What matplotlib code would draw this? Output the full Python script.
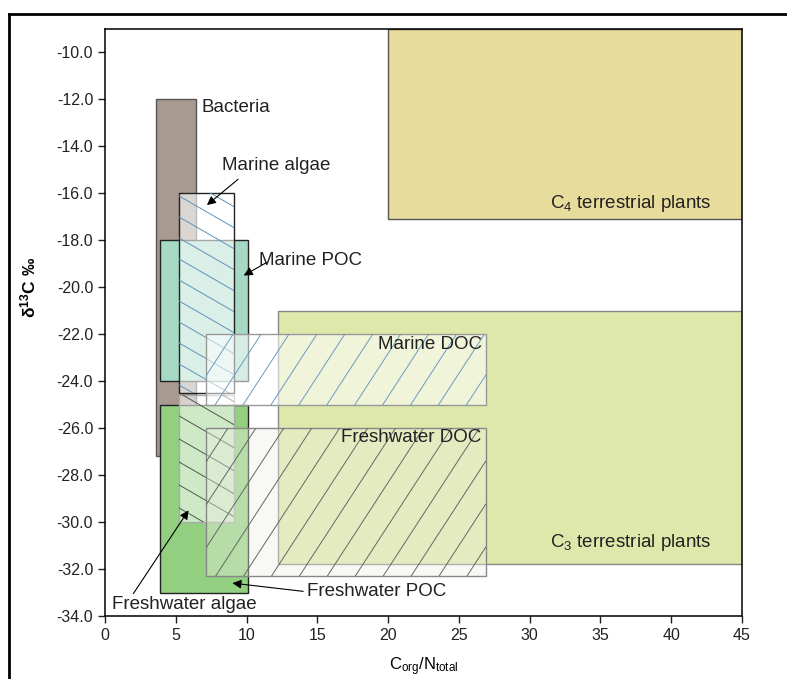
import matplotlib
matplotlib.use('Agg')
import matplotlib.pyplot as plt
from matplotlib.patches import Rectangle
from matplotlib.lines import Line2D
import numpy as np

plt.rcParams['font.family'] = ['Liberation Sans', 'DejaVu Sans']
plt.rcParams['mathtext.fontset'] = 'custom'
plt.rcParams['mathtext.rm'] = 'Liberation Sans'
plt.rcParams['mathtext.it'] = 'Liberation Sans:italic'
plt.rcParams['mathtext.bf'] = 'Liberation Sans:bold'
plt.rcParams['axes.unicode_minus'] = False

# source ranges: C/N ratio (x) and d13C (y)
names = ['C4 plants', 'C3 plants', 'Bacteria', 'Marine POC', 'Freshwater POC',
         'Marine algae', 'Freshwater algae', 'Marine DOC', 'Freshwater DOC']
cn_lo = [20.0, 12.2, 3.6, 3.9, 3.9, 5.2, 5.2, 7.1, 7.1]
cn_hi = [45.0, 45.0, 6.4, 10.1, 10.1, 9.1, 9.1, 26.9, 26.9]
d13c_lo = [-17.1, -31.8, -27.2, -24.0, -33.0, -24.5, -30.0, -25.0, -32.3]
d13c_hi = [-9.0, -21.0, -12.0, -18.0, -25.0, -16.0, -24.6, -22.0, -26.0]

x_ticks = [0, 5, 10, 15, 20, 25, 30, 35, 40, 45]
y_ticks = [-34, -32, -30, -28, -26, -24, -22, -20, -18, -16, -14, -12, -10]

# fill colour, alpha, edge colour, hatch (angle deg, spacing px, colour) or None
styles = {
    'C4 plants': ('#e8dc9c', 1.0, '#555555', None),
    'C3 plants': ('#dfe8ab', 1.0, '#888888', None),
    'Bacteria': ('#a89a90', 1.0, '#555555', None),
    'Marine POC': ('#a5d9c4', 1.0, '#222222', None),
    'Freshwater POC': ('#92cf80', 1.0, '#222222', None),
    'Marine algae': ('white', 0.6, '#222222', (-30, 21, '#5f93b8')),
    'Freshwater algae': ('white', 0.55, '#aaaaaa', (-30, 23, '#555555')),
    'Marine DOC': ('white', 0.55, '#999999', (57, 43, '#6a9cc0')),
    'Freshwater DOC': ('#eef0e4', 0.4, '#888888', (57, 43, '#666666')),
}

W, H = 787, 679
fig = plt.figure(figsize=(W / 100, H / 100), dpi=100)
ax_l, ax_r, ax_t, ax_b = 105, 742, 29, 616
ax = fig.add_axes([ax_l / W, 1 - ax_b / H, (ax_r - ax_l) / W, (ax_b - ax_t) / H])
ax.set_xlim(0, 45)
ax.set_ylim(-34, -9)

kx = (ax_r - ax_l) / 45.0
ky = (ax_b - ax_t) / 25.0


def hatch(patch, x0, x1, y0, y1, angle, step, color, z):
    m = np.tan(np.radians(angle)) * kx / ky
    dy = step / ky
    span = abs(m) * (x1 - x0)
    start = np.floor((y0 - span) / dy) * dy
    for b in np.arange(start, y1 + span + dy, dy):
        ln, = ax.plot([x0, x1], [b, b + m * (x1 - x0)], color=color, lw=0.7, zorder=z)
        ln.set_clip_path(patch)


for i, n in enumerate(names):
    fc, a, ec, h = styles[n]
    r = Rectangle((cn_lo[i], d13c_lo[i]), cn_hi[i] - cn_lo[i], d13c_hi[i] - d13c_lo[i],
                  facecolor=matplotlib.colors.to_rgba(fc, a), edgecolor=ec, lw=1.0, zorder=i + 1)
    ax.add_patch(r)
    if h is not None:
        hatch(r, cn_lo[i], cn_hi[i], d13c_lo[i], d13c_hi[i], h[0], h[1], h[2], i + 1.5)

# labels
tc = '#222222'
fs = 13.5
ax.text(6.8, -12.35, 'Bacteria', fontsize=fs, color=tc, va='center', zorder=20)
ax.text(8.3, -14.8, 'Marine algae', fontsize=fs, color=tc, va='center', zorder=20)
ax.text(10.9, -18.85, 'Marine POC', fontsize=fs, color=tc, va='center', zorder=20)
ax.text(26.6, -22.45, 'Marine DOC', fontsize=fs, color=tc, va='center', ha='right', zorder=20)
ax.text(26.6, -26.4, 'Freshwater DOC', fontsize=fs, color=tc, va='center', ha='right', zorder=20)
ax.text(42.8, -16.45, 'C$_4$ terrestrial plants', fontsize=fs, color=tc, va='center', ha='right', zorder=20)
ax.text(42.8, -30.85, 'C$_3$ terrestrial plants', fontsize=fs, color=tc, va='center', ha='right', zorder=20)
ax.text(0.5, -33.5, 'Freshwater algae', fontsize=fs, color=tc, va='center', zorder=20)
ax.text(14.3, -32.95, 'Freshwater POC', fontsize=fs, color=tc, va='center', zorder=20)

arrow = dict(arrowstyle='-|>', color='black', lw=0.8, mutation_scale=13, shrinkA=0, shrinkB=0)
ax.annotate('', xy=(7.2, -16.5), xytext=(9.4, -15.4), arrowprops=arrow, zorder=20)
ax.annotate('', xy=(9.8, -19.5), xytext=(11.4, -18.95), arrowprops=arrow, zorder=20)
ax.annotate('', xy=(5.9, -29.5), xytext=(2.0, -33.05), arrowprops=arrow, zorder=20)
ax.annotate('', xy=(9.0, -32.6), xytext=(14.0, -32.95), arrowprops=arrow, zorder=20)

ax.set_xticks(x_ticks)
ax.set_yticks(y_ticks)
ax.set_yticklabels(['%.1f' % v for v in y_ticks])
ax.tick_params(direction='out', length=5, width=1, labelsize=11.5, colors='#222222')
for s in ax.spines.values():
    s.set_linewidth(1.1)
ax.set_xlabel('C$_{\\mathrm{org}}$/N$_{\\mathrm{total}}$', fontsize=12, labelpad=9)
ax.set_ylabel('δ$^{\\mathbf{13}}$C ‰', fontsize=12.5, fontweight='bold')
ax.yaxis.set_label_coords(-0.105, 0.56)

# outer frame
fx = 8.5 / W
fy = 1 - 13.5 / H
fig.add_artist(Line2D([fx, fx], [0, fy], transform=fig.transFigure, color='black', lw=2))
fig.add_artist(Line2D([fx, 1], [fy, fy], transform=fig.transFigure, color='black', lw=2))

fig.savefig('out.png', dpi=100)
